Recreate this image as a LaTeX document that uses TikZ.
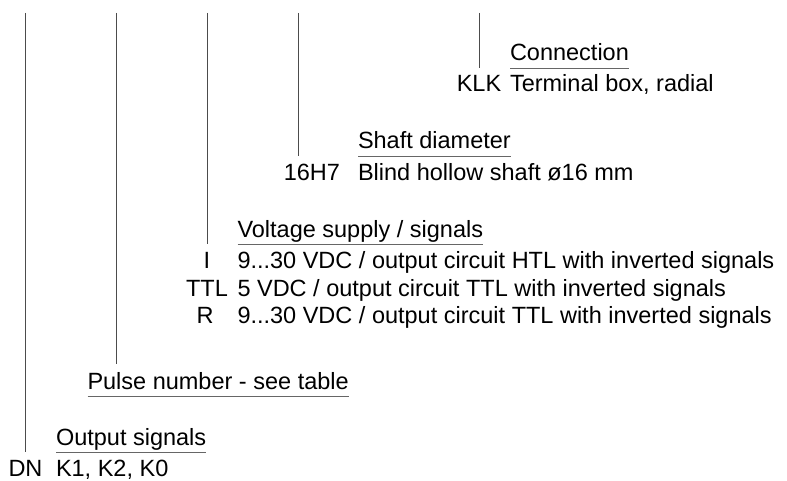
\documentclass[tikz,border=0pt]{standalone}
\usepackage{fontspec}
\setmainfont{Liberation Sans}
\usetikzlibrary{positioning,calc}

\tikzset{
  lead/.style={draw=black!70, line width=0.9pt},
  uline/.style={draw=black!60, line width=0.9pt},
}

\begin{document}
\begin{tikzpicture}[x=1pt,y=-1pt,every node/.style={inner sep=0pt, outer sep=0pt, anchor=base west, font=\fontsize{23.5}{28}\selectfont}]
  \useasboundingbox (0,0) rectangle (787,481);

  % headings
  \node(hC) at (510,61)    {Connection};
  \node(hS) at (358,149)   {Shaft diameter};
  \node(hV) at (237.5,237) {Voltage supply / signals};
  \node(hP) at (87.5,389)  {Pulse number - see table};
  \node(hO) at (56,445)    {Output signals};

  \foreach \h in {hC,hS,hV,hP,hO}
    \draw[uline] ([yshift=-7pt]\h.base west) coordinate (u\h) -- ([yshift=-7pt]\h.base east);

  % lead lines
  \coordinate(t1) at (25.5,13);
  \coordinate(t2) at (116.5,13);
  \coordinate(t3) at (207,13);
  \coordinate(t4) at (298,13);
  \coordinate(t5) at (479,13);
  \coordinate(eP) at ([yshift=8pt]hP.north);

  \draw[lead] (t1) -- (t1 |- uhO);
  \draw[lead] (t2) -- (t2 |- eP);
  \draw[lead] (t3) -- (t3 |- uhV);
  \draw[lead] (t4) -- (t4 |- uhS);
  \draw[lead] (t5) -- (t5 |- uhC);

  % connection
  \node(dC) at ([yshift=-31pt]hC.base west) {Terminal box, radial};
  \node(cC)[anchor=base] at (t5 |- dC.base) {KLK};

  % shaft
  \node(dS) at ([yshift=-32pt]hS.base west) {Blind hollow shaft ø16 mm};
  \node(cS)[left=18pt of dS.base west,anchor=base east] {16H7};

  % voltage
  \node(dI) at ([yshift=-31pt]hV.base west) {9...30 VDC / output circuit HTL with inverted signals};
  \node(dT) at ([yshift=-28pt]dI.base west) {5 VDC / output circuit TTL with inverted signals};
  \node(dR) at ([yshift=-27pt]dT.base west) {9...30 VDC / output circuit TTL with inverted signals};
  \node(cI)[anchor=base] at (t3 |- dI.base) {I};
  \node(cT)[anchor=base] at (t3 |- dT.base) {TTL};
  \node(cR)[anchor=base] at ([xshift=-2pt]t3 |- dR.base) {R};

  % output signals
  \node(dO) at ([yshift=-31pt]hO.base west) {K1, K2, K0};
  \node(cO)[anchor=base] at (t1 |- dO.base) {DN};
\end{tikzpicture}
\end{document}
